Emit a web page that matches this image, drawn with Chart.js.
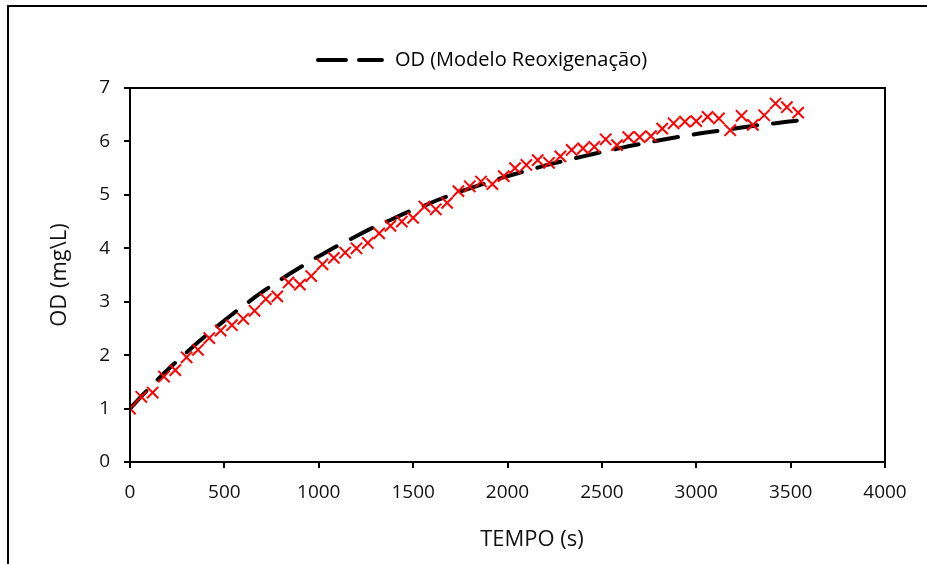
<!DOCTYPE html>
<html lang="pt">
<head>
    <meta charset="UTF-8" />
    <title>OD - Modelo Reoxigenação</title>
    <script src="https://cdn.jsdelivr.net/npm/chart.js"></script>
    <style>
        body {
            margin: 0;
            padding: 0;
            background: #fff;
            overflow: hidden;
        }
        .moldura {
            position: absolute;
            left: 7px;
            top: 5px;
            width: 1000px;
            height: 700px;
            border: 2px solid #000;
        }
        .chart-container {
            position: absolute;
            left: 0;
            top: 0;
            width: 927px;
            height: 564px;
        }
    </style>
</head>
<body>
    <div class="moldura"></div>
    <div class="chart-container">
        <canvas id="odChart" width="927" height="564"></canvas>
    </div>

    <script>
        // tempo (s) das leituras
        const tempo = [0, 60, 120, 180, 240, 300, 360, 420, 480, 540, 600, 660, 720, 780, 840, 900, 960, 1020, 1080, 1140,
            1200, 1260, 1320, 1380, 1440, 1500, 1560, 1620, 1680, 1740, 1800, 1860, 1920, 1980, 2040, 2100, 2160, 2220, 2280, 2340,
            2400, 2460, 2520, 2580, 2640, 2700, 2760, 2820, 2880, 2940, 3000, 3060, 3120, 3180, 3240, 3300, 3360, 3420, 3480, 3540];

        // OD medido (mg/L)
        const odMedido = [1.00, 1.22, 1.30, 1.60, 1.72, 1.96, 2.10, 2.32, 2.46, 2.56, 2.68, 2.83, 3.05, 3.10, 3.36, 3.32, 3.48, 3.70, 3.82, 3.92,
            4.00, 4.10, 4.28, 4.42, 4.50, 4.57, 4.78, 4.73, 4.85, 5.07, 5.16, 5.25, 5.20, 5.35, 5.50, 5.56, 5.65, 5.60, 5.72, 5.84,
            5.87, 5.90, 6.04, 5.93, 6.08, 6.08, 6.10, 6.24, 6.34, 6.37, 6.38, 6.46, 6.43, 6.21, 6.48, 6.31, 6.49, 6.71, 6.64, 6.54];

        // OD do modelo de reoxigenação (mg/L)
        const odModelo = [1.00, 1.23, 1.45, 1.66, 1.86, 2.05, 2.24, 2.42, 2.59, 2.76, 2.92, 3.08, 3.23, 3.37, 3.51, 3.64, 3.77, 3.89, 4.01, 4.12,
            4.23, 4.34, 4.44, 4.53, 4.63, 4.72, 4.80, 4.89, 4.97, 5.05, 5.12, 5.19, 5.26, 5.33, 5.39, 5.45, 5.51, 5.57, 5.62, 5.67,
            5.72, 5.77, 5.82, 5.86, 5.91, 5.95, 5.99, 6.03, 6.07, 6.10, 6.14, 6.17, 6.20, 6.23, 6.26, 6.29, 6.32, 6.34, 6.37, 6.39];

        const yTicks = [0, 1, 2, 3, 4, 5, 6, 7];
        const xTicks = [0, 500, 1000, 1500, 2000, 2500, 3000, 3500, 4000];

        const labelModelo = 'OD (Modelo Reoxigenação)';
        const tituloX = 'TEMPO (s)';

        Chart.defaults.font.family = '"Open Sans", Lato, sans-serif';
        Chart.defaults.font.size = 19;
        Chart.defaults.color = '#111';

        // amostra tracejada da legenda
        const amostra = document.createElement('canvas');
        amostra.width = 70;
        amostra.height = 8;
        (function () {
            const c = amostra.getContext('2d');
            c.strokeStyle = '#000';
            c.lineWidth = 4;
            c.lineCap = 'round';
            c.beginPath();
            c.moveTo(3, 4); c.lineTo(31, 4);
            c.moveTo(44, 4); c.lineTo(67, 4);
            c.stroke();
        })();

        // moldura da área de plotagem, título do eixo X e ajuste da legenda
        const plotFrame = {
            id: 'plotFrame',
            afterLayout(chart) {
                const lg = chart.legend;
                if (!lg) return;
                const dx = 481 - (lg.left + lg.right) / 2;
                lg.left += dx;
                lg.right += dx;
                lg.top -= 8;
                lg.bottom -= 8;
            },
            afterDatasetsDraw(chart) {
                const { ctx, chartArea: a } = chart;
                ctx.save();
                ctx.strokeStyle = '#000';
                ctx.lineWidth = 2;
                ctx.strokeRect(a.left, a.top, a.right - a.left, a.bottom - a.top);
                ctx.restore();
            },
            afterDraw(chart) {
                const ctx = chart.ctx;
                ctx.save();
                ctx.font = '22px "Open Sans", Lato, sans-serif';
                ctx.fillStyle = '#111';
                ctx.textAlign = 'center';
                ctx.textBaseline = 'middle';
                ctx.fillText(tituloX, 532, 540);
                ctx.restore();
            }
        };

        const ctx = document.getElementById('odChart').getContext('2d');

        const odChart = new Chart(ctx, {
            type: 'scatter',
            data: {
                datasets: [
                    {
                        label: labelModelo,
                        data: tempo.map((t, i) => ({ x: t, y: odModelo[i] })),
                        showLine: true,
                        borderColor: '#000',
                        backgroundColor: '#000',
                        borderWidth: 4,
                        borderDash: [24, 16],
                        borderCapStyle: 'round',
                        pointRadius: 0,
                        pointStyle: amostra,
                        tension: 0,
                        order: 1
                    },
                    {
                        label: 'OD medido',
                        data: tempo.map((t, i) => ({ x: t, y: odMedido[i] })),
                        showLine: false,
                        pointStyle: 'crossRot',
                        pointRadius: 8,
                        pointBorderWidth: 2,
                        borderColor: '#ff0000',
                        backgroundColor: '#ff0000',
                        order: 0
                    }
                ]
            },
            options: {
                responsive: false,
                animation: false,
                layout: {
                    padding: { top: 48, right: 42, bottom: 0, left: 0 }
                },
                plugins: {
                    legend: {
                        display: true,
                        position: 'top',
                        labels: {
                            usePointStyle: true,
                            pointStyleWidth: 70,
                            padding: 10,
                            color: '#111',
                            font: { size: 20 },
                            generateLabels: (chart) => [{
                                text: labelModelo,
                                pointStyle: amostra,
                                fillStyle: '#000',
                                strokeStyle: '#000',
                                lineWidth: 0,
                                hidden: false,
                                datasetIndex: 0
                            }]
                        }
                    },
                    tooltip: { enabled: false }
                },
                scales: {
                    x: {
                        type: 'linear',
                        min: 0,
                        max: 4000,
                        afterBuildTicks: (scale) => {
                            scale.ticks = xTicks.map(v => ({ value: v }));
                        },
                        afterFit: (scale) => { scale.height = 102; },
                        ticks: {
                            padding: 13,
                            maxRotation: 0,
                            autoSkip: false,
                            callback: (v) => String(v)
                        },
                        grid: {
                            drawOnChartArea: false,
                            drawTicks: true,
                            tickLength: 6,
                            color: '#000',
                            lineWidth: 2
                        },
                        border: { display: true, color: '#000', width: 2 },
                        title: { display: false, text: tituloX }
                    },
                    y: {
                        min: 0,
                        max: 7,
                        afterBuildTicks: (scale) => {
                            scale.ticks = yTicks.map(v => ({ value: v }));
                        },
                        afterFit: (scale) => { scale.width = 130; },
                        ticks: {
                            padding: 14,
                            callback: (v) => String(v)
                        },
                        grid: {
                            drawOnChartArea: false,
                            drawTicks: true,
                            tickLength: 6,
                            color: '#000',
                            lineWidth: 2
                        },
                        border: { display: true, color: '#000', width: 2 },
                        title: {
                            display: true,
                            text: 'OD (mg\\L)',
                            font: { size: 22 },
                            color: '#111',
                            padding: 47
                        }
                    }
                }
            },
            plugins: [plotFrame]
        });
    </script>
</body>
</html>
